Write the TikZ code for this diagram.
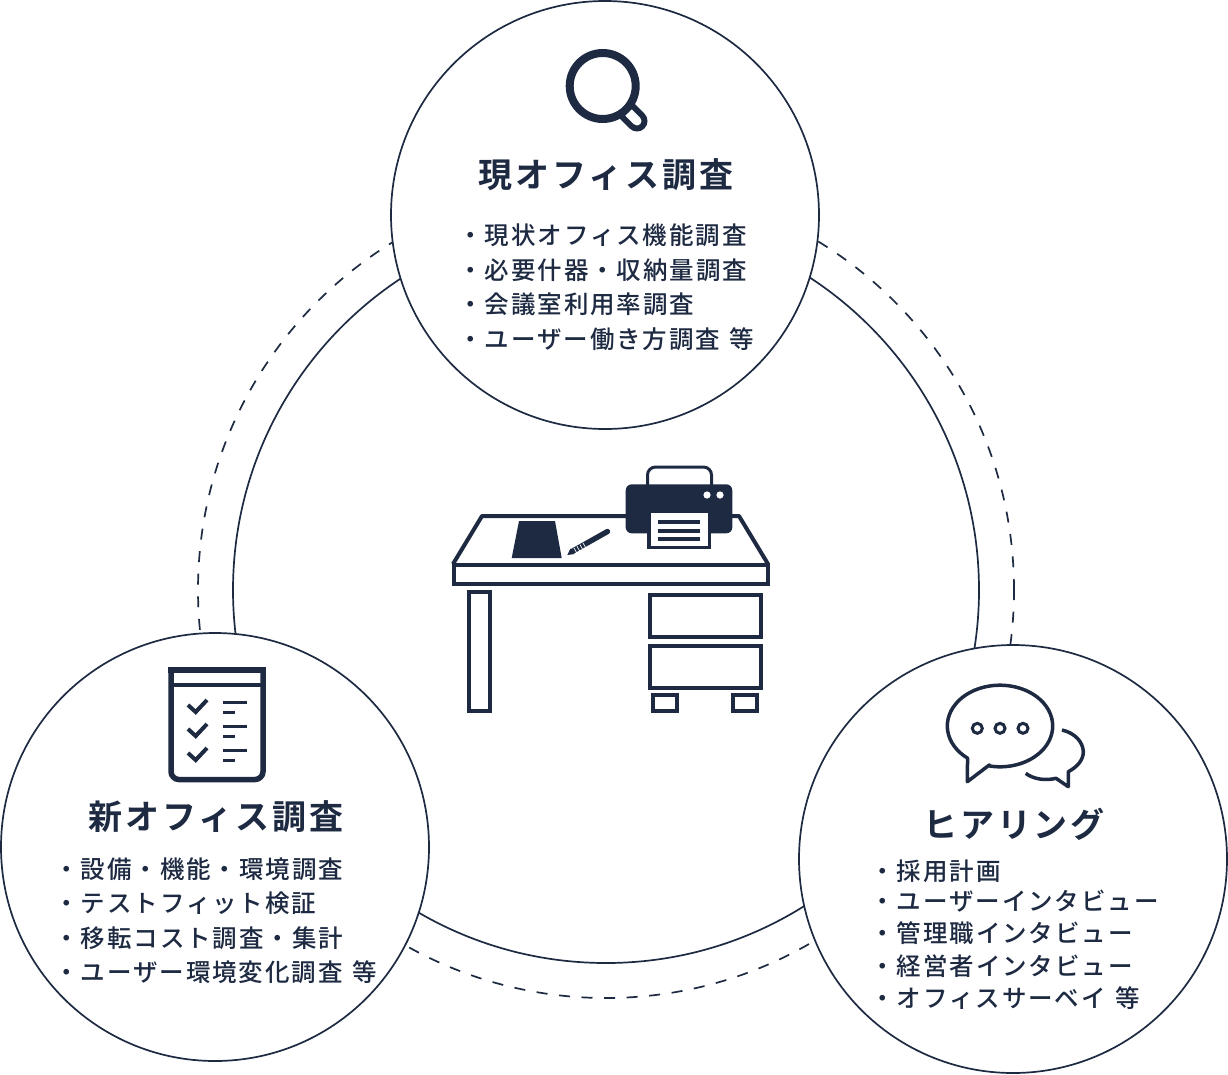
\documentclass[tikz,border=0pt]{standalone}
\usepackage{xcolor}
\usepackage{fontspec}
\newfontfamily\listfont[LetterSpace=8]{Noto Sans CJK JP Medium}
\newfontfamily\headfont[LetterSpace=8.5]{Noto Sans CJK JP Bold}
\newcommand{\wordgap}{\hspace{2pt}}
\definecolor{navy}{HTML}{1D2A42}
\tikzset{
    bubble/.style={circle, draw=navy, fill=white, line width=1.7pt, minimum size=428pt, inner sep=0pt},
    headtext/.style={text=navy, inner sep=0pt, font=\headfont\fontsize{34}{34}\selectfont},
    listtext/.style={text=navy, inner sep=0pt, anchor=west, font=\listfont\fontsize{24.5}{24.5}\selectfont},
    icon/.style={draw=navy, line width=3.5pt},
}

\begin{document}
\begin{tikzpicture}[x=1pt, y=-1pt]
    \useasboundingbox (0, 0) rectangle (1228, 1074);

    \node[circle, draw=navy, line width=1.7pt, minimum size=746pt, inner sep=0pt] (Ring) at (606, 590) {};
    \node[circle, draw=navy, line width=1.7pt, dash pattern=on 11pt off 11.6pt, minimum size=816pt, inner sep=0pt] (DashRing) at (606, 590) {};

    \node[bubble] (Current) at (605, 215) {};
    \node[bubble] (New) at (215, 847) {};
    \node[bubble] (Hearing) at (1013, 859) {};

    \node[headtext] (CurrentHead) at (606, 175) {現オフィス調査};
    \node[listtext] (CurrentA) at (458, 235) {・現状オフィス機能調査};
    \node[listtext] (CurrentB) at (458, 270) {・必要什器・収納量調査};
    \node[listtext] (CurrentC) at (458, 304) {・会議室利用率調査};
    \node[listtext] (CurrentD) at (458, 339) {・ユーザー働き方調査 \wordgap 等};

    \node[headtext] (NewHead) at (216, 817) {新オフィス調査};
    \node[listtext] (NewA) at (54, 869) {・設備・機能・環境調査};
    \node[listtext] (NewB) at (54, 903) {・テストフィット検証};
    \node[listtext] (NewC) at (54, 938) {・移転コスト調査・集計};
    \node[listtext] (NewD) at (54, 972) {・ユーザー環境変化調査 \wordgap 等};

    \node[headtext] (HearingHead) at (1014, 824) {ヒアリング};
    \node[listtext] (HearingA) at (870, 871) {・採用計画};
    \node[listtext] (HearingB) at (870, 901) {・ユーザーインタビュー};
    \node[listtext] (HearingC) at (870, 933) {・管理職インタビュー};
    \node[listtext] (HearingD) at (870, 966) {・経営者インタビュー};
    \node[listtext] (HearingE) at (870, 998) {・オフィスサーベイ \wordgap 等};

    % desk
    \draw[icon, line width=4pt, line join=round] (453, 564) -- (482, 516) -- (739, 516) -- (768, 564);
    \draw[icon, line width=4pt] (453.5, 565) rectangle (767.5, 584);
    \draw[icon] (469, 592) rectangle (490, 711);
    \draw[icon] (650, 595) rectangle (761, 637);
    \draw[icon] (650, 646) rectangle (761, 688);
    \draw[icon] (653, 695) rectangle (677, 711);
    \draw[icon] (733, 695) rectangle (757, 711);
    \fill[navy] (519, 521) -- (555, 521) -- (561.7, 558) -- (511.7, 558) -- cycle;

    % pen
    \draw[navy, line width=5.4pt, line cap=round] (572, 551.5) -- (607.5, 531.5);
    \fill[navy] (567.3, 555) -- (570.5, 548.5) -- (574.5, 554) -- cycle;
    \draw[white, line width=0.7pt] (574, 548) -- (576.8, 553) (577, 546.3) -- (579.8, 551.3) (580, 544.6) -- (582.8, 549.6) (583, 542.9) -- (585.8, 547.9);

    % printer
    \draw[icon, line width=3pt, rounded corners=8pt] (647.5, 486) -- (647.5, 467) -- (711.5, 467) -- (711.5, 486);
    \fill[navy, rounded corners=6pt] (625.7, 484.3) rectangle (732.3, 533.3);
    \fill[white] (707, 495) circle (3.6pt) (720, 495) circle (3.6pt);
    \fill[white] (650.7, 513.3) rectangle (708, 546);
    \draw[icon] (649, 533) -- (649, 547.7) -- (709.5, 547.7) -- (709.5, 533);
    \foreach \y in {522, 530.7, 539} {
        \draw[navy, line width=4pt] (658, \y) -- (700, \y);
    }

    % magnifier
    \draw[navy, line width=21pt, line cap=round] (625, 109) -- (637, 121);
    \draw[white, line width=9pt, line cap=round] (629, 113) -- (637, 121);
    \draw[navy, line width=8pt, fill=white] (602.7, 86) circle (33pt);

    % checklist
    \draw[navy, line width=5.5pt, rounded corners=8pt] (171, 670) -- (171, 779.5) -- (263, 779.5) -- (263, 670);
    \draw[navy, line width=5.5pt] (168.3, 670) -- (265.7, 670);
    \draw[navy, line width=4pt] (171, 685) -- (263, 685);
    \foreach \dy in {0, 24, 48} {
        \draw[navy, line width=4pt] (188, 705 + \dy) -- (195.7, 712 + \dy) -- (207, 700 + \dy);
        \draw[navy, line width=3pt] (223.3, 702.3 + \dy) -- (247.3, 702.3 + \dy);
        \draw[navy, line width=3pt] (223.3, 712.3 + \dy) -- (235.3, 712.3 + \dy);
    }

    % speech bubbles
    \draw[icon, line join=round] plot[smooth, samples=60, domain=128:461] ({1000 + 52.7*cos(\x)}, {726 + 40.8*sin(\x)}) -- (989.3, 765) -- (967.3, 781.7) -- cycle;
    \foreach \x in {977.3, 1000, 1023} {
        \draw[navy, line width=3pt] (\x, 728.3) circle (5pt);
    }
    \draw[icon, line join=round] (1062, 730) .. controls (1075, 733) and (1083, 742) .. (1083.3, 751.7) .. controls (1083.5, 760) and (1077, 767) .. (1068.3, 771.7) -- (1068.3, 786.7) -- (1056, 778.3) .. controls (1045, 781) and (1033, 779) .. (1025.7, 773.3);
\end{tikzpicture}
\end{document}
